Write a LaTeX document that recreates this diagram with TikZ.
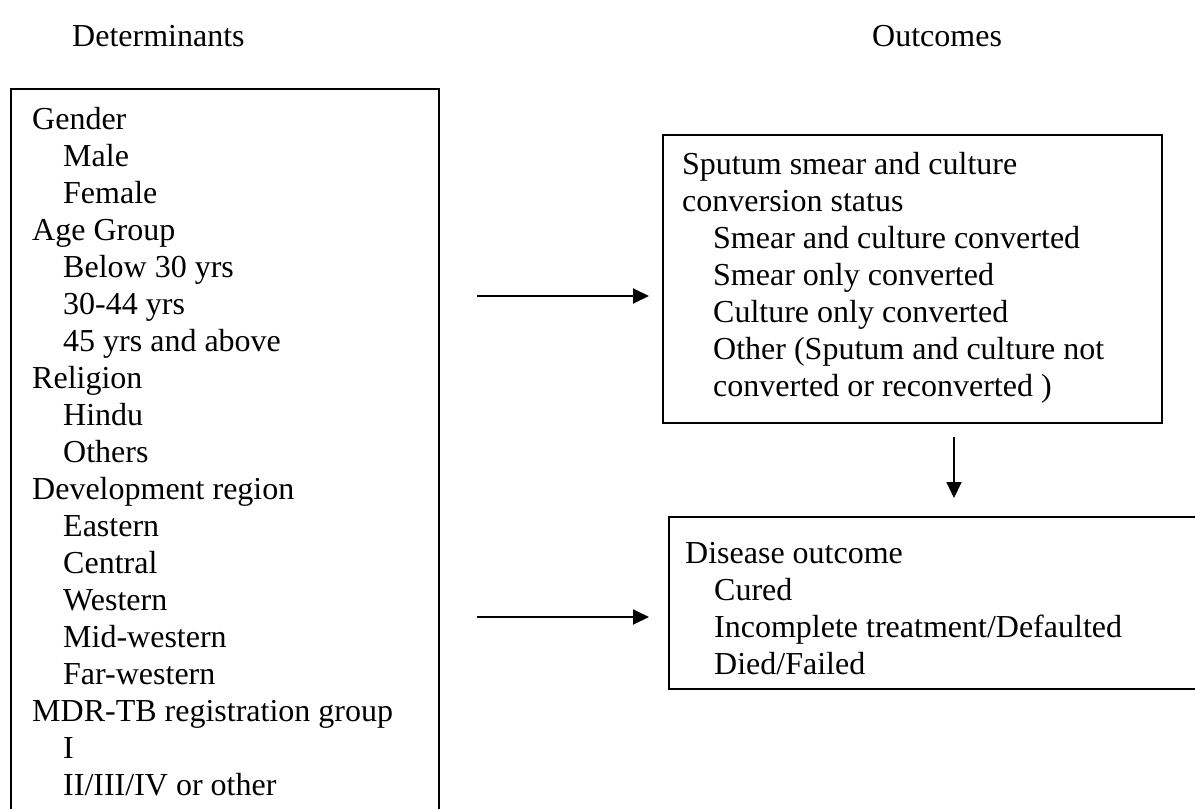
\documentclass[tikz,border=0pt]{standalone}
\usepackage{fontspec}
\setmainfont{Liberation Serif}
\usetikzlibrary{arrows.meta}
\begin{document}
\begin{tikzpicture}[x=1pt,y=-1pt,
  box/.style={draw,line width=1.6pt,inner sep=0pt,anchor=north west},
  txt/.style={anchor=base west,inner sep=0pt,font=\fontsize{32}{37}\selectfont},
  arr/.style={line width=1.9pt,-{Triangle[length=16pt,width=15pt]}}]
\useasboundingbox (0,0) rectangle (1195,809);
\clip (0,0) rectangle (1195,809);
\node[txt] (hdet) at (72,46) {Determinants};
\node[txt] (hout) at (872,46) {Outcomes};
% left box
\node[box,minimum width=428pt,minimum height=760pt] (detbox) at (10,88) {};
\foreach \x/\t [count=\i from 0] in {32/{Gender},63/{Male},63/{Female},32/{Age Group},63/{Below 30 yrs},63/{30-44 yrs},63/{45 yrs and above},32/{Religion},63/{Hindu},63/{Others},32/{Development region},63/{Eastern},63/{Central},63/{Western},63/{Mid-western},63/{Far-western},32/{MDR-TB registration group},63/{I},63/{II/III/IV or other}}
  \node[txt] (det\i) at (\x,129+37*\i) {\t};
% top right box
\node[box,minimum width=499pt,minimum height=288pt] (convbox) at (662,134) {};
\foreach \x/\t [count=\i from 0] in {682/{Sputum smear and culture},682/{conversion status},713/{Smear and culture converted},713/{Smear only converted},713/{Culture only converted},713/{Other (Sputum and culture not},713/{converted or reconverted )}}
  \node[txt] (conv\i) at (\x,174+37*\i) {\t};
% bottom right box
\node[box,minimum width=600pt,minimum height=172pt] (outbox) at (668,516) {};
\foreach \x/\t [count=\i from 0] in {685/{Disease outcome},714/{Cured},714/{Incomplete treatment/Defaulted},714/{Died/Failed}}
  \node[txt] (out\i) at (\x,563+37*\i) {\t};
% arrows
\coordinate (s1) at (477,296);
\coordinate (s2) at (954,437);
\coordinate (s3) at (477,617);
\draw[arr,shorten >=13pt] (s1) -- (s1 -| convbox.west);
\draw[arr,shorten >=18pt] (s2) -- (s2 |- outbox.north);
\draw[arr,shorten >=19pt] (s3) -- (s3 -| outbox.west);
\end{tikzpicture}
\end{document}
